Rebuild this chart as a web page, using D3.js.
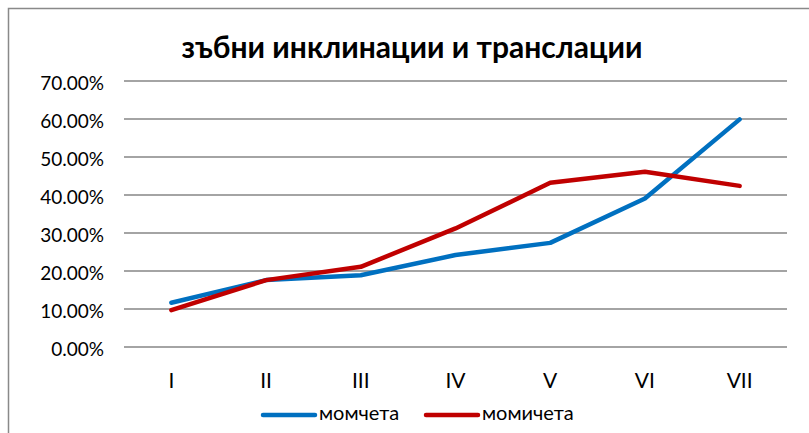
<!DOCTYPE html>
<html><head><meta charset="utf-8">
<script src="https://cdn.jsdelivr.net/npm/d3@7"></script>
<style>body{margin:0;background:#fff}svg{display:block}</style>
</head><body><svg id="c" width="809" height="433"></svg>
<script>
const categories = ["I","II","III","IV","V","VI","VII"];
const boys = [0.1166, 0.176, 0.189, 0.242, 0.274, 0.391, 0.599];
const girls = [0.097, 0.176, 0.211, 0.312, 0.432, 0.461, 0.424];
const yTicks = [0,0.1,0.2,0.3,0.4,0.5,0.6,0.7];
const seriesNames = ["момчета","момичета"];
const colors = ["#0070C0","#C00000"];
const title = "зъбни инклинации и транслации";

const svg = d3.select("#c");
const font = "Lato, 'Open Sans', sans-serif";
svg.append("rect").attr("x",8.5).attr("y",8.5).attr("width",900).attr("height",500)
  .attr("fill","#fff").attr("stroke","#898989").attr("stroke-width",1.5);

const x = d3.scaleBand().domain(categories).range([124,787]);
const y = d3.scaleLinear().domain([0,0.7]).range([347,81]);

svg.append("g").selectAll("line").data(yTicks).join("line")
  .attr("x1",124).attr("x2",787).attr("y1",d=>y(d)).attr("y2",d=>y(d))
  .attr("stroke","#868686").attr("stroke-width",1.5);

svg.append("g").selectAll("text").data(yTicks).join("text")
  .attr("x",104).attr("y",d=>y(d)+9).attr("text-anchor","end")
  .attr("font-family",font).attr("font-size",19).attr("fill","#000")
  .text(d=>d3.format(".2%")(d));

svg.append("g").selectAll("text").data(categories).join("text")
  .attr("x",d=>x(d)+x.bandwidth()/2).attr("y",388).attr("text-anchor","middle")
  .attr("font-family",font).attr("font-size",21).attr("fill","#000").text(d=>d);

const line = d3.line().x((d,i)=>x(categories[i])+x.bandwidth()/2).y(d=>y(d));
[boys,girls].forEach((s,k)=>{
  svg.append("path").attr("d",line(s)).attr("fill","none").attr("stroke",colors[k])
    .attr("stroke-width",4.5).attr("stroke-linecap","round").attr("stroke-linejoin","round");
});

svg.append("text").attr("x",412).attr("y",58).attr("text-anchor","middle")
  .attr("font-family",font).attr("font-weight","bold").attr("font-size",30).attr("fill","#000").text(title);

const leg = [{x:262,name:seriesNames[0],c:colors[0]},{x:425,name:seriesNames[1],c:colors[1]}];
leg.forEach(l=>{
  svg.append("line").attr("x1",l.x+1).attr("x2",l.x+53).attr("y1",415).attr("y2",415)
    .attr("stroke",l.c).attr("stroke-width",4.5).attr("stroke-linecap","round");
  svg.append("text").attr("x",l.x+57).attr("y",420)
    .attr("font-family",font).attr("font-size",20).attr("fill","#000").text(l.name);
});
</script></body></html>
